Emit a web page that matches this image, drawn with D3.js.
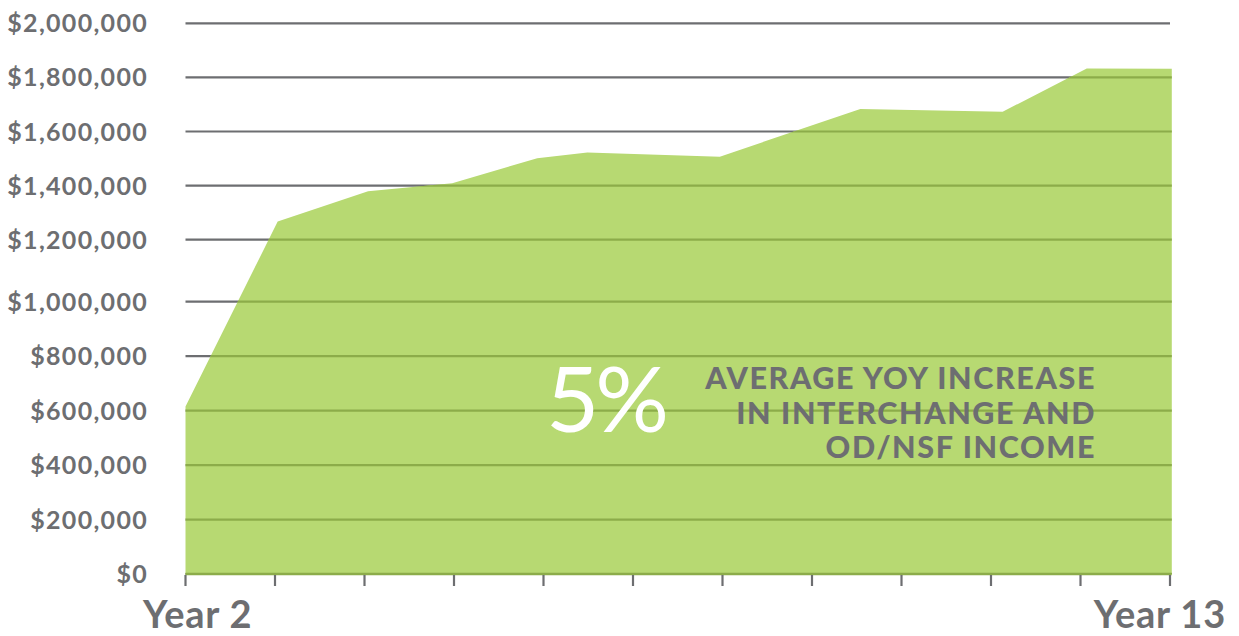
<!DOCTYPE html>
<html>
<head>
<meta charset="utf-8">
<script src="https://cdn.jsdelivr.net/npm/d3@7"></script>
<style>
  html, body { margin: 0; padding: 0; background: #fff; }
  svg { display: block; }
</style>
</head>
<body>
<svg id="chart" width="1239" height="636"></svg>
<script>
// ---- data ----
const years = [2, 3, 4, 5, 6, 7, 8, 9, 10, 11, 12, 13];            // axis ticks
const pointYears = [2, 3.03, 4.04, 4.98, 5.93, 6.49, 7.97, 9.54, 11.13, 12.07, 13.02];
const income = [615000, 1267000, 1379000, 1409000, 1501000, 1522000, 1507000, 1683000, 1673000, 1833000, 1832000];
const yTicks = [0, 200000, 400000, 600000, 800000, 1000000, 1200000, 1400000, 1600000, 1800000, 2000000];
const xLabels = ["Year 2", "Year 13"];
const bigNumber = "5%";
const noteLines = ["AVERAGE YOY INCREASE", "IN INTERCHANGE AND", "OD/NSF INCOME"];

// ---- setup ----
const svg = d3.select("#chart");
const gray = "#6d6e71";
const green = "#b7d972";
const darkGreen = "#8cac4a";

const x = d3.scaleLinear().domain([2, 13]).range([185.5, 1170]);
const y = d3.scaleLinear()
  .domain([0, 1000000, 1200000, 2000000])
  .range([574, 301.7, 239.7, 23.3]);

const pts = pointYears.map((v, i) => ({ x: v, y: income[i] }));
const area = d3.area().x(d => x(d.x)).y0(y(0)).y1(d => y(d.y));

// gray gridlines
svg.append("g").selectAll("line").data(yTicks).join("line")
  .attr("x1", x(2)).attr("x2", x(13))
  .attr("y1", d => y(d)).attr("y2", d => y(d))
  .attr("stroke", gray).attr("stroke-width", 2.2);

// area
svg.append("path").datum(pts).attr("d", area).attr("fill", green);

// gridlines inside area (darker green)
svg.append("clipPath").attr("id", "areaClip")
  .append("path").datum(pts).attr("d", area);
svg.append("g").attr("clip-path", "url(#areaClip)")
  .selectAll("line").data(yTicks).join("line")
  .attr("x1", x(2)).attr("x2", x(13.1))
  .attr("y1", d => y(d)).attr("y2", d => y(d))
  .attr("stroke", darkGreen).attr("stroke-width", 2.2);

// baseline
svg.append("line")
  .attr("x1", x(2)).attr("x2", x(13.02))
  .attr("y1", y(0)).attr("y2", y(0))
  .attr("stroke", darkGreen).attr("stroke-width", 2.5);

// x ticks
svg.append("g").selectAll("line").data(years).join("line")
  .attr("x1", d => x(d)).attr("x2", d => x(d))
  .attr("y1", y(0) + 1).attr("y2", y(0) + 12)
  .attr("stroke", gray).attr("stroke-width", 2.2);

// y labels
const fmt = d3.format("$,");
svg.append("g").selectAll("text").data(yTicks).join("text")
  .attr("x", 148).attr("y", d => y(d))
  .attr("dy", "0.36em")
  .attr("text-anchor", "end")
  .attr("fill", gray)
  .style("font-family", "Lato, sans-serif")
  .style("font-weight", 700)
  .style("font-size", "25px")
  .style("letter-spacing", "1.3px")
  .text(d => fmt(d));

// x labels
const xl = svg.append("g")
  .attr("fill", gray)
  .style("font-family", "Lato, sans-serif").style("font-weight", 700).style("font-size", "38px")
  .style("letter-spacing", "0.8px");
xl.append("text").attr("x", 143).attr("y", 628).text(xLabels[0]);
xl.append("text").attr("x", 1226).attr("y", 628).attr("text-anchor", "end").text(xLabels[1]);

// annotation
svg.append("text").attr("x", 546).attr("y", 432)
  .attr("fill", "#ffffff")
  .style("font-family", "Lato, sans-serif").style("font-weight", 400).style("font-size", "92px")
  .style("letter-spacing", "-4px")
  .text(bigNumber);

const note = svg.append("g")
  .attr("fill", gray)
  .style("font-family", "Lato, sans-serif").style("font-weight", 900).style("font-size", "30.5px")
  .style("letter-spacing", "1.6px");
note.selectAll("text").data(noteLines).join("text")
  .attr("text-anchor", "end")
  .attr("x", 1096).attr("y", (d, i) => 389 + i * 34.5)
  .text(d => d);
</script>
</body>
</html>
